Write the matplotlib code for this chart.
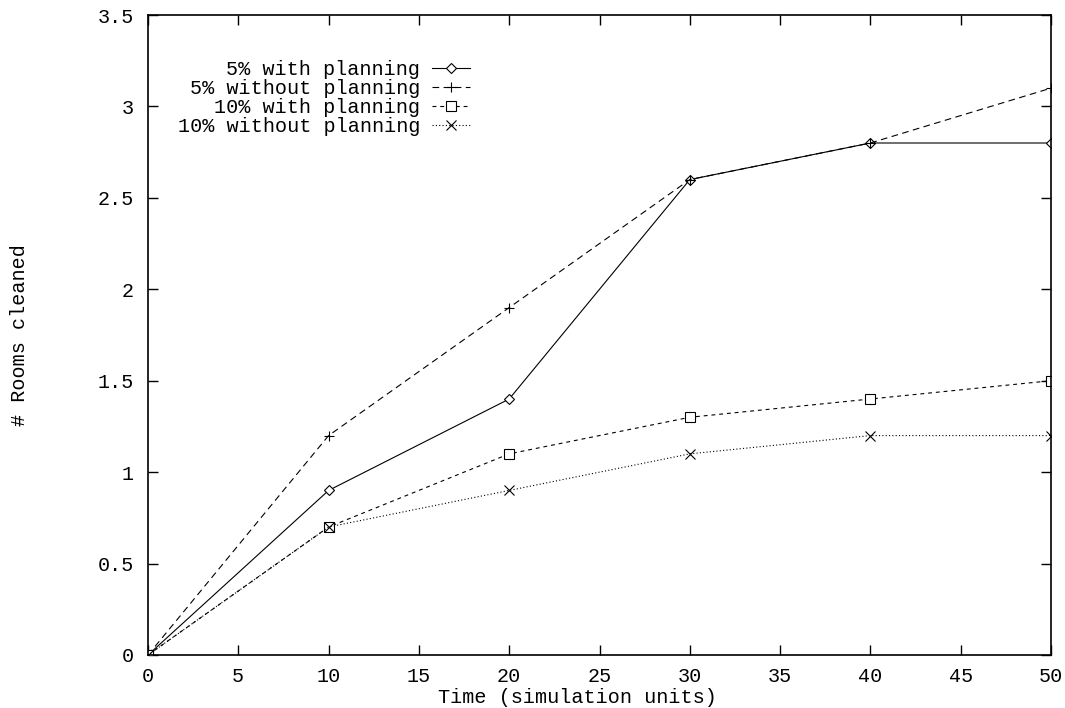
import matplotlib
matplotlib.use("Agg")
import matplotlib.pyplot as plt

plt.rcParams['font.family'] = ['Liberation Mono', 'DejaVu Sans Mono']
plt.rcParams['font.size'] = 14.5

time = [0, 10, 20, 30, 40, 50]
with5 = [0, 0.9, 1.4, 2.6, 2.8, 2.8]
without5 = [0, 1.2, 1.9, 2.6, 2.8, 3.1]
with10 = [0, 0.7, 1.1, 1.3, 1.4, 1.5]
without10 = [0, 0.7, 0.9, 1.1, 1.2, 1.2]
yticks = [0, 0.5, 1, 1.5, 2, 2.5, 3, 3.5]
ylabels = ["0", "0.5", "1", "1.5", "2", "2.5", "3", "3.5"]

fig = plt.figure(figsize=(10.65, 7.08), dpi=100)
ax = fig.add_axes([148 / 1065, 53 / 708, 903 / 1065, 640 / 708])

ax.plot(time, with5, color="k", lw=0.8, ls="-", marker="D", ms=5.5,
        mfc="white", mec="k", mew=0.8, label="5% with planning")
ax.plot(time, without5, color="k", lw=0.8, ls=(0, (6, 4)), marker="+", ms=7.5,
        mew=0.8, label="5% without planning")
ax.plot(time, with10, color="k", lw=0.8, ls=(0, (3.5, 3.5)), marker="s", ms=7.5,
        mfc="white", mec="k", mew=0.8, label="10% with planning")
ax.plot(time, without10, color="k", lw=0.8, ls=(0, (1, 2)), marker="x", ms=7,
        mew=0.8, label="10% without planning")

ax.set_xlim(0, 50)
ax.set_ylim(0, 3.5)
ax.set_xticks(range(0, 51, 5))
ax.set_yticks(yticks)
ax.set_yticklabels(ylabels)
ax.tick_params(direction="in", length=7, width=1, top=True, right=True)
ax.tick_params(axis="x", pad=9)
ax.tick_params(axis="y", pad=10)
for s in ax.spines.values():
    s.set_linewidth(1.2)

ax.set_xlabel("Time (simulation units)")
ax.xaxis.set_label_coords(0.476, -0.052)
ax.set_ylabel("# Rooms cleaned")
ax.yaxis.set_label_coords(-0.132, 0.5)

ax.legend(loc="upper right", bbox_to_anchor=(0.357, 0.929), frameon=False,
          markerfirst=False, handlelength=1.9, handletextpad=0.6,
          labelspacing=0.0, borderpad=0, borderaxespad=0)

fig.savefig("out.png", dpi=100)
